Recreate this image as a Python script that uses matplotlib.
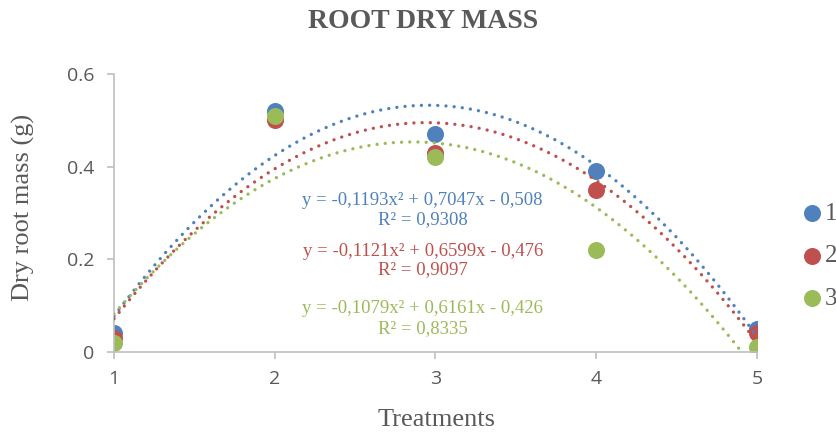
import matplotlib as mpl
mpl.use("Agg")
import matplotlib.pyplot as plt
import numpy as np

treatments = [1, 2, 3, 4, 5]
series_names = ["1", "2", "3"]
# massa seca da raiz (g)
mass_1 = [0.04, 0.52, 0.47, 0.39, 0.05]
mass_2 = [0.03, 0.50, 0.43, 0.35, 0.04]
mass_3 = [0.02, 0.51, 0.42, 0.22, 0.01]
# coeficientes da linha de tendencia polinomial (a, b, c)
coef_1 = [-0.1193, 0.7047, -0.508]
coef_2 = [-0.1121, 0.6599, -0.476]
coef_3 = [-0.1079, 0.6161, -0.426]
r2_values = [0.9308, 0.9097, 0.8335]

colors = ["#4F81BD", "#C0504D", "#9BBB59"]
gray = "#595959"
serif = ["Liberation Serif", "DejaVu Serif"]

fig = plt.figure(figsize=(8.37, 4.33), dpi=100)
ax = fig.add_axes([0.1362, 0.187, 0.7682, 0.642])

all_mass = [mass_1, mass_2, mass_3]
all_coef = [coef_1, coef_2, coef_3]
xs = np.linspace(treatments[0], treatments[-1], 300)

for i in range(3):
    ax.scatter(treatments, all_mass[i], s=150, color=colors[i], zorder=2,
               label=series_names[i], linewidths=0)
for i in range(3):
    ax.plot(xs, np.polyval(all_coef[i], xs), color=colors[i], lw=2.4,
            linestyle=(0, (0.01, 2.45)), dash_capstyle="round", zorder=3)


def fmt(v):
    return ("%g" % abs(v)).replace(".", ",")


label_y = [(0.328, 0.285), (0.218, 0.177), (0.095, 0.050)]
for i in range(3):
    a, b, c = all_coef[i]
    eq = "y = -%sx² + %sx - %s" % (fmt(a), fmt(b), fmt(c))
    ax.text(2.92, label_y[i][0], eq, color=colors[i], fontsize=13.5,
            family=serif, ha="center", va="center")
    ax.text(2.92, label_y[i][1], "R² = " + ("%.4f" % r2_values[i]).replace(".", ","),
            color=colors[i], fontsize=13.5, family=serif, ha="center", va="center")

ax.set_xlim(1, 5)
ax.set_ylim(0, 0.6)
ax.set_xticks(treatments)
ax.set_yticks([0, 0.2, 0.4, 0.6])
ax.set_yticklabels(["0", "0.2", "0.4", "0.6"])
for s in ["top", "right"]:
    ax.spines[s].set_visible(False)
for s in ["left", "bottom"]:
    ax.spines[s].set_color("#BFBFBF")
    ax.spines[s].set_linewidth(1.2)
ax.tick_params(axis="both", colors="#BFBFBF", length=5, width=1.2,
               labelcolor=gray, labelsize=14)
ax.tick_params(axis="y", pad=9)
ax.tick_params(axis="x", pad=8)
for lab in ax.get_xticklabels() + ax.get_yticklabels():
    lab.set_family(["Open Sans", "DejaVu Sans"])

fig.text(0.506, 0.951, "ROOT DRY MASS", fontsize=20, fontweight="bold",
         family=serif, color=gray, ha="center", va="center")
fig.text(0.522, 0.030, "Treatments", fontsize=19, family=serif, color=gray,
         ha="center", va="center")
fig.text(0.028, 0.52, "Dry root mass (g)", fontsize=19, family=serif, color=gray,
         ha="center", va="center", rotation=90)

leg = ax.legend(loc="upper left", bbox_to_anchor=(1.066, 0.538), frameon=False,
                prop={"family": serif, "size": 18}, handletextpad=0.0,
                labelspacing=0.8, markerscale=1.0, borderpad=0,
                borderaxespad=0, handlelength=1.0)
for t in leg.get_texts():
    t.set_color(gray)

fig.savefig("out.png", dpi=100)
